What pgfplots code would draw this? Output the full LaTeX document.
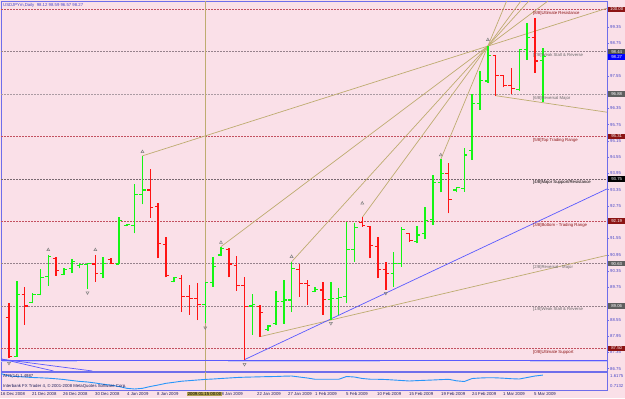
\documentclass[border=0pt]{standalone}
\usepackage{pgfplots}
\pgfplotsset{compat=1.18}
\usepackage{pgfplotstable}
\usepackage{fontspec}
\setmainfont{Liberation Sans}
\newcommand{\mt}{\fontsize{4.3}{5}\selectfont}
\definecolor{bgpink}{RGB}{250,224,232}
\definecolor{axblue}{RGB}{110,110,235}
\definecolor{tanl}{RGB}{190,172,112}
\definecolor{mmred}{RGB}{195,80,95}
\definecolor{mmgrey}{RGB}{150,130,140}
\definecolor{dred}{RGB}{140,20,20}
\definecolor{greyt}{RGB}{105,105,105}
\definecolor{upc}{RGB}{20,245,20}
\definecolor{dnc}{RGB}{255,20,20}
\definecolor{atrblue}{RGB}{40,150,250}
\definecolor{tickblue}{RGB}{70,70,200}
\definecolor{navyt}{RGB}{30,30,90}
\definecolor{lav}{RGB}{200,195,240}
\definecolor{tline}{RGB}{90,90,255}
\definecolor{olivebox}{RGB}{176,160,80}

\pgfplotstableread{
x o h l c
1 87.21 89.98 87.19 89.49
3 89.18 89.53 89.16 89.49
4 89.49 90.42 89.45 90.12
5 90.14 90.94 89.81 90.90
7 90.23 90.45 90.20 90.41
8 90.45 90.78 90.27 90.69
9 90.57 90.66 90.45 90.60
10 90.59 90.66 89.69 90.62
12 90.27 90.86 90.08 90.63
14 90.61 92.33 90.60 92.23
15 92.03 92.10 92.00 92.06
16 92.04 93.55 91.74 93.19
17 93.19 94.59 92.81 93.34
21 89.96 90.14 89.93 90.10
25 89.13 89.96 88.43 89.92
26 89.92 90.87 89.77 90.52
27 90.94 91.25 90.90 91.19
31 89.06 89.50 87.99 89.10
33 88.20 88.36 88.15 88.32
34 88.42 89.62 88.36 89.22
35 89.22 90.02 88.40 89.28
36 89.28 90.69 88.83 90.45
39 89.60 89.77 89.56 89.66
41 89.30 89.96 88.54 89.33
42 89.34 89.71 88.73 89.38
43 89.40 92.17 89.16 91.13
44 91.13 92.14 90.69 91.96
49 90.27 91.04 89.77 90.63
50 90.63 91.99 90.51 91.89
52 91.43 92.02 91.37 91.68
53 91.72 92.72 91.52 92.23
54 92.26 93.89 92.05 93.61
55 93.61 94.47 93.25 93.96
57 93.34 93.46 93.25 93.44
58 93.41 94.88 93.27 94.63
59 94.81 96.87 94.45 96.54
60 96.54 97.74 96.29 97.37
61 97.36 98.65 97.30 98.29
65 97.06 98.53 97.00 98.51
66 98.53 99.51 98.14 98.96
68 98.12 98.59 96.57 98.27
}\upbars

\pgfplotstableread{
x o h l c
0 88.63 89.16 87.13 87.21
2 89.47 89.77 88.36 89.06
6 90.82 90.86 90.17 90.36
11 90.61 90.94 89.96 90.27
13 90.79 90.82 90.60 90.62
18 93.34 94.10 92.30 92.70
19 92.72 92.85 90.82 91.35
20 91.34 91.62 90.12 90.17
22 90.08 90.20 88.83 89.40
23 89.40 89.83 88.73 89.34
24 89.32 89.91 88.54 89.10
28 91.15 91.19 90.12 90.61
29 90.57 90.90 89.62 89.80
30 89.80 90.12 87.08 89.03
32 89.03 89.08 87.93 88.81
37 90.41 90.60 89.40 89.90
38 89.90 90.02 89.10 89.83
40 89.65 89.96 88.73 89.31
45 92.15 92.33 91.99 92.02
46 91.99 92.02 90.82 91.28
47 91.27 91.62 90.08 90.41
48 90.39 90.69 89.65 90.27
51 91.72 91.74 91.43 91.47
56 93.96 94.33 92.48 93.00
62 98.29 98.32 96.82 97.56
63 97.55 97.58 97.13 97.18
64 97.18 97.85 96.87 97.07
67 98.96 99.68 97.67 98.10
}\dnbars

\pgfplotstableread{
x v
-1.0 1.580
0 1.448
1 1.420
2 1.391
3 1.363
4 1.346
5 1.324
6 1.290
7 1.250
8 1.194
9 1.143
10 1.109
11 1.052
12 0.984
13 0.928
14 0.855
15 0.753
16 0.713
17 0.753
18 0.855
19 0.939
20 1.035
21 1.092
22 1.154
23 1.188
24 1.222
25 1.256
26 1.278
27 1.307
28 1.335
29 1.363
30 1.380
31 1.391
32 1.403
33 1.414
34 1.420
35 1.437
36 1.448
37 1.391
38 1.335
39 1.262
40 1.262
41 1.262
42 1.262
43 1.420
44 1.391
45 1.307
46 1.267
47 1.262
48 1.250
49 1.222
50 1.194
51 1.165
52 1.188
53 1.205
54 1.222
55 1.244
56 1.262
57 1.177
58 1.137
59 1.307
60 1.335
61 1.352
62 1.346
63 1.324
64 1.295
65 1.278
66 1.363
67 1.448
68 1.499
}\atr

\pgfplotsset{
  mm/.style={line width=0.7bp, dash pattern=on 1.5bp off 1.5bp},
  hl/.style={draw=#1, mark=none, forget plot, line width=1.5bp, line cap=butt,
    quiver={u=0, v=\thisrow{h}-\thisrow{l}}},
  op/.style={draw=#1, mark=none, forget plot, line width=1.1bp, line cap=butt,
    quiver={u=0.4, v=0}},
}

\begin{document}
\begin{tikzpicture}[x=1bp,y=1bp,
  lab/.style={font=\mt, inner sep=0pt, anchor=west},
  box/.style={font=\mt, text=white, inner sep=0pt, anchor=west, minimum width=17bp, minimum height=5.6bp}]
\fill[bgpink] (0,0) rectangle (625,398);

\begin{axis}[at={(1bp,27bp)}, anchor=south west, width=606bp, height=370bp, scale only axis,
  xmin=-1.019, xmax=76.178, ymin=86.6607, ymax=100.3137,
  axis line style={axblue, line width=0.8bp},
  xtick=\empty,
  ytick={86.75,87.35,87.95,88.55,89.75,90.35,90.95,91.55,92.75,93.35,93.95,94.55,95.15,95.75,96.35,97.55,98.75,99.35},
  ytick pos=right, yticklabel pos=right,
  tick align=outside, major tick length=2bp,
  tick style={axblue, line width=0.5bp},
  yticklabel style={font=\mt, text=tickblue, anchor=west, inner sep=0pt, xshift=1bp,
    /pgf/number format/.cd, fixed, precision=2, fixed zerofill, assume math mode=true},
  clip=true]
% Murrey math levels
\addplot[mmred, mm] coordinates {(-1.019,100) (76.178,100)};
\addplot[mmgrey, mm] coordinates {(-1.019,98.4375) (76.178,98.4375)};
\addplot[mmgrey!80, mm] coordinates {(-1.019,96.875) (76.178,96.875)};
\addplot[mmred, mm] coordinates {(-1.019,95.3125) (76.178,95.3125)};
\addplot[mmgrey!80!black, mm] coordinates {(-1.019,93.75) (76.178,93.75)};
\addplot[mmred, mm] coordinates {(-1.019,92.1875) (76.178,92.1875)};
\addplot[mmgrey, mm] coordinates {(-1.019,90.625) (76.178,90.625)};
\addplot[mmgrey, mm] coordinates {(-1.019,89.0625) (76.178,89.0625)};
\addplot[mmred, mm] coordinates {(-1.019,87.5) (76.178,87.5)};
% crosshair
\addplot[tanl, line width=0.7bp] coordinates {(25,86.6607) (25,100.3137)};
% support bands
\addplot[lav, line width=1.6bp] coordinates {(-1.019,87.01) (8.66,87.01)};
\addplot[lav, line width=1.6bp] coordinates {(27.9,87.01) (47.26,87.01)};
\addplot[lav, line width=1.6bp] coordinates {(66.4,87.01) (76.178,87.01)};
\addplot[tline, line width=0.7bp] coordinates {(-1.019,87.07) (76.178,87.07)};
\addplot[tline, line width=0.7bp] coordinates {(-1.019,87.11) (5.677,86.6607)};
\addplot[tline, line width=0.7bp] coordinates {(-1.019,87.10) (10.63,86.6607)};
% trend lines
\addplot[tanl, line width=0.7bp] coordinates {(17,94.6) (76.178,100.047)};
\addplot[tanl, line width=0.7bp] coordinates {(27,91.25) (68.65,100.3137)};
\addplot[tanl, line width=0.7bp] coordinates {(36,90.69) (66.22,100.3137)};
\addplot[tanl, line width=0.7bp] coordinates {(45,92.33) (65.21,100.3137)};
\addplot[tanl, line width=0.7bp] coordinates {(55,94.47) (63.39,100.3137)};
\addplot[tanl, line width=0.7bp] coordinates {(62,96.82) (76.178,96.21)};
\addplot[tanl, line width=0.7bp] coordinates {(32,87.93) (76.178,90.93)};
\addplot[tline, line width=0.7bp] coordinates {(30,87.08) (76.178,93.38)};
% fractal arrows
\addplot[only marks, mark=triangle, mark size=1.7bp, gray, mark options={line width=0.5bp}] coordinates {
(5,91.13) (11,91.13) (17,94.75) (27,91.40) (36,90.88) (45,92.85) (55,94.63) (61,98.88)};
\addplot[only marks, mark=triangle, mark size=1.7bp, gray, mark options={line width=0.5bp, rotate=180}] coordinates {
(0,86.95) (10,89.55) (25,88.26) (30,86.91) (41,88.42) (48,89.53)};
% OHLC bars: high-low, open (left tick), close (right tick)
\addplot[hl=dnc] table[x=x, y=l] {\dnbars};
\addplot[op=dnc] table[x expr=\thisrow{x}-0.4, y=o] {\dnbars};
\addplot[op=dnc] table[x=x, y=c] {\dnbars};
\addplot[hl=upc] table[x=x, y=l] {\upbars};
\addplot[op=upc] table[x expr=\thisrow{x}-0.4, y=o] {\upbars};
\addplot[op=upc] table[x=x, y=c] {\upbars};
\end{axis}

\begin{axis}[at={(1bp,8bp)}, anchor=south west, width=606bp, height=18bp, scale only axis,
  xmin=-1.019, xmax=76.178, ymin=0.6567, ymax=1.674,
  axis line style={axblue, line width=0.8bp},
  xtick=\empty, ytick=\empty, clip=true]
\addplot[tanl, line width=0.7bp] coordinates {(25,0.6567) (25,1.674)};
\addplot[atrblue, line width=0.9bp] table[x=x, y=v] {\atr};
\end{axis}

\draw[axblue, line width=1.7bp] (1,26.4) -- (607,26.4);

% title and sub-window texts
\node[lab, text=tickblue] at (3,393) {USDJPYm,Daily\ \ 98.12 98.59 96.57 98.27};
\node[lab, text=navyt] at (3,22) {ATR(14) 1.4987};
\node[lab, text=navyt] at (3,12) {Interbank FX Trader 4, © 2001-2008 MetaQuotes Software Corp.};
\node[lab, text=tickblue] at (610,22) {1.6175};
\node[lab, text=tickblue] at (610,12) {0.7132};

% Murrey labels
\node[lab, text=dred] at (533,384.7) {[8/8]Ultimate Resistance};
\node[lab, text=greyt] at (533,342.4) {[7/8]Weak Stall \& Reverse};
\node[lab, text=greyt] at (533,300) {[6/8]Reversal Major};
\node[lab, text=dred] at (533,257.7) {[5/8]Top Trading Range};
\node[lab, text=black] at (533,215.3) {[4/8]Major Support/Resistance};
\node[lab, text=dred] at (533,173) {[3/8]Bottom - Trading Range};
\node[lab, text=greyt] at (533,130.6) {[2/8]Reversal - Major};
\node[lab, text=greyt] at (533,88.3) {[1/8]Weak Stall \& Reverse};
\node[lab, text=dred] at (533,46) {[0/8]Ultimate Support};

% right price boxes
\node[box, fill=dred] at (608,388.5) {100.00};
\node[box, fill={rgb,255:red,80;green,80;blue,80}] at (608,346.2) {98.44};
\node[box, fill=blue] at (608,341.1) {98.27};
\node[box, fill={rgb,255:red,95;green,95;blue,95}] at (608,303.8) {96.88};
\node[box, fill=dred] at (608,261.5) {95.31};
\node[box, fill=black] at (608,219.1) {93.75};
\node[box, fill=dred] at (608,176.8) {92.19};
\node[box, fill={rgb,255:red,95;green,95;blue,95}] at (608,134.4) {90.63};
\node[box, fill={rgb,255:red,95;green,95;blue,95}] at (608,92.1) {89.06};
\node[box, fill=dred] at (608,49.7) {87.50};

% date labels
\foreach \xx/\tt in {0.5/16 Dec 2008, 32/21 Dec 2008, 63/26 Dec 2008, 95/30 Dec 2008, 127/4 Jan 2009,
  157/8 Jan 2009, 219/18 Jan 2009, 257/22 Jan 2009, 288/27 Jan 2009, 315/1 Feb 2009, 346/5 Feb 2009,
  377/10 Feb 2009, 409/15 Feb 2009, 441/19 Feb 2009, 472/24 Feb 2009, 503/1 Mar 2009, 534/5 Mar 2009}
  {\node[lab, text=navyt] at (\xx,4) {\tt};}
\node[font=\mt, inner sep=0.6bp, fill=olivebox, text=black, anchor=west] at (187,4) {2009.01.15 00:00};

\pgfresetboundingbox
\path[use as bounding box] (0,0) rectangle (625,398);
\end{tikzpicture}
\end{document}
